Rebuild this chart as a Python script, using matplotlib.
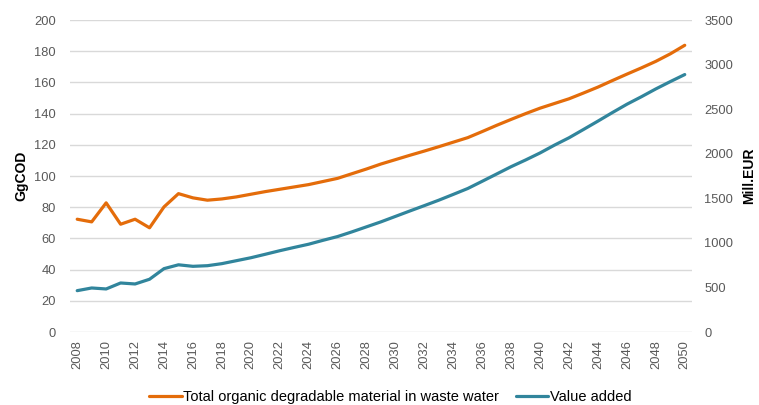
import numpy as np
import matplotlib
matplotlib.use("Agg")
import matplotlib.pyplot as plt

plt.rcParams['font.family'] = ['Liberation Sans', 'DejaVu Sans']

years = list(range(2008, 2051))

# GgCOD, left axis
organic = [72.3, 70.6, 82.8, 69.1, 72.3, 66.8, 80.2, 88.7, 86.0, 84.5,
           85.3, 86.6, 88.3, 90.0, 91.5, 93.0, 94.5, 96.5, 98.5, 101.5,
           104.5, 107.7, 110.5, 113.3, 116.0, 118.8, 121.7, 124.6, 128.5, 132.5,
           136.3, 140.0, 143.5, 146.5, 149.5, 153.2, 157.0, 161.2, 165.3, 169.3,
           173.5, 178.3, 183.8]

# Mill.EUR, right axis
value_added = [464, 494, 483, 550, 539, 592, 711, 754, 737, 744,
               767, 800, 833, 872, 912, 949, 985, 1029, 1071, 1124,
               1180, 1236, 1297, 1358, 1418, 1479, 1544, 1610, 1691, 1773,
               1855, 1930, 2009, 2097, 2179, 2272, 2366, 2462, 2555, 2639,
               2727, 2809, 2888]

orange = '#E46C0A'
teal = '#31859C'
grey = '#595959'

fig = plt.figure(figsize=(7.59, 4.05), dpi=100)
ax = fig.add_axes([0.0922, 0.1802, 0.8195, 0.7704])
ax2 = ax.twinx()

x = np.arange(len(years))
l1, = ax.plot(x, organic, color=orange, lw=2.3, solid_capstyle='round',
              label='Total organic degradable material in waste water')
l2, = ax2.plot(x, value_added, color=teal, lw=2.3, solid_capstyle='round',
               label='Value added')

ax.set_xlim(-0.5, len(years) - 0.5)
ax.set_ylim(0, 200)
ax.set_yticks(range(0, 201, 20))
ax2.set_ylim(0, 3500)
ax2.set_yticks(range(0, 3501, 500))

ax.set_xticks(x[::2])
ax.set_xticklabels([str(y) for y in years[::2]], rotation=90)

ax.grid(axis='y', color='#D9D9D9', lw=1)
ax.set_axisbelow(True)
for a in (ax, ax2):
    for s in a.spines.values():
        s.set_visible(False)
    a.tick_params(length=0, labelsize=9.3, labelcolor=grey)
ax.tick_params(axis='y', pad=10)
ax.tick_params(axis='x', pad=6)
ax2.tick_params(axis='y', pad=9)

ax.set_ylabel('GgCOD', fontsize=10, fontweight='bold', labelpad=4)
ax2.set_ylabel('Mill.EUR', fontsize=10, fontweight='bold', rotation=90, labelpad=6)

fig.legend(handles=[l1, l2], loc='lower center', bbox_to_anchor=(0.5145, -0.03),
           ncol=2, frameon=False, fontsize=10.5, handlelength=2.2,
           handletextpad=0.1, columnspacing=1.2)

fig.savefig('out.png', dpi=100)
